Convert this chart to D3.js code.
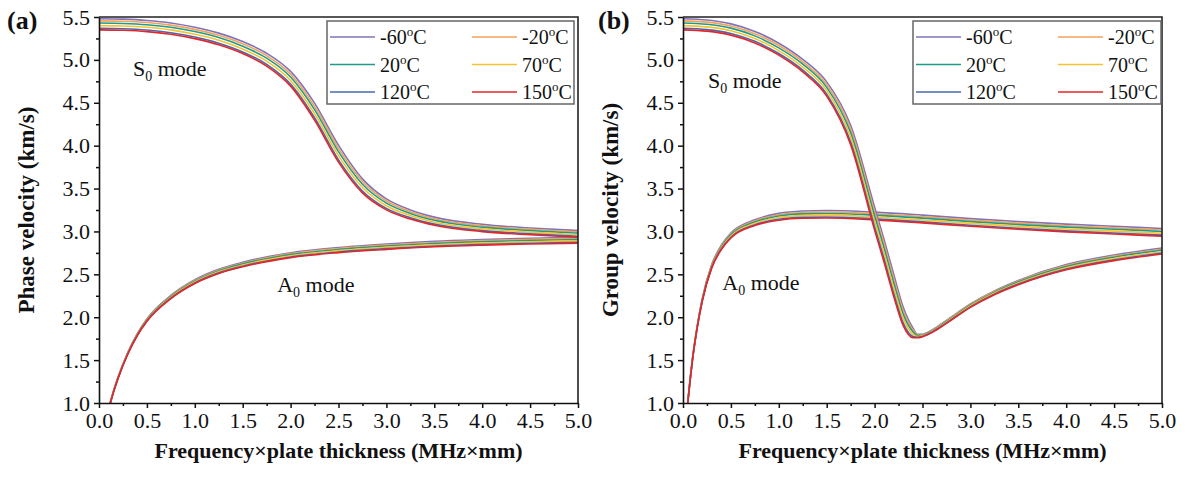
<!DOCTYPE html>
<html>
<head>
<meta charset="utf-8">
<script src="https://cdn.jsdelivr.net/npm/d3@7"></script>
<style>
  body { margin: 0; background: #fff; }
  svg { display: block; }
  text { font-family: "Liberation Serif", "Times New Roman", serif; fill: #111; }
</style>
</head>
<body>
<svg id="chart" width="1188" height="481"></svg>
<script>
// temperatures in the legend (order: top curve -> bottom curve)
var temps = ["-60", "-20", "20", "70", "120", "150"];
var tempColors = ["#8073b8", "#f5a15a", "#1f9c88", "#f4c430", "#4a68ad", "#e3262b"];

var xTicks = [0, 0.5, 1, 1.5, 2, 2.5, 3, 3.5, 4, 4.5, 5];
var yTicks = [1, 1.5, 2, 2.5, 3, 3.5, 4, 4.5, 5, 5.5];

// (a) phase velocity, S0 mode
var fdS0Phase = [0, 0.25, 0.5, 0.75, 1, 1.25, 1.5, 1.75, 2, 2.25, 2.5, 2.75, 3, 3.25, 3.5, 4, 4.5, 5];
var s0Phase = [
  [5.480, 5.475, 5.460, 5.431, 5.381, 5.312, 5.214, 5.078, 4.866, 4.496, 4.006, 3.613, 3.379, 3.251, 3.167, 3.082, 3.041, 3.010],
  [5.455, 5.450, 5.435, 5.405, 5.356, 5.286, 5.187, 5.049, 4.833, 4.458, 3.968, 3.582, 3.355, 3.231, 3.148, 3.066, 3.025, 2.995],
  [5.430, 5.425, 5.410, 5.380, 5.330, 5.260, 5.160, 5.020, 4.800, 4.420, 3.930, 3.550, 3.330, 3.210, 3.130, 3.050, 3.010, 2.980],
  [5.400, 5.395, 5.380, 5.350, 5.299, 5.229, 5.128, 4.985, 4.760, 4.374, 3.884, 3.512, 3.300, 3.185, 3.108, 3.031, 2.992, 2.962],
  [5.368, 5.363, 5.348, 5.317, 5.267, 5.195, 5.093, 4.948, 4.718, 4.325, 3.835, 3.472, 3.269, 3.159, 3.085, 3.010, 2.972, 2.943],
  [5.350, 5.345, 5.330, 5.299, 5.248, 5.176, 5.074, 4.928, 4.694, 4.298, 3.808, 3.449, 3.251, 3.144, 3.072, 2.998, 2.961, 2.933]
];

// (a) phase velocity, A0 mode
var fdA0Phase = [0.1, 0.15, 0.2, 0.3, 0.4, 0.5, 0.75, 1, 1.25, 1.5, 2, 2.5, 3, 3.5, 4, 4.5, 5];
var a0Phase = [
  [0.935, 1.135, 1.306, 1.588, 1.809, 1.981, 2.254, 2.437, 2.559, 2.640, 2.752, 2.813, 2.854, 2.885, 2.905, 2.921, 2.931],
  [0.932, 1.133, 1.303, 1.584, 1.805, 1.976, 2.247, 2.428, 2.549, 2.630, 2.741, 2.802, 2.842, 2.872, 2.893, 2.908, 2.918],
  [0.930, 1.130, 1.300, 1.580, 1.800, 1.970, 2.240, 2.420, 2.540, 2.620, 2.730, 2.790, 2.830, 2.860, 2.880, 2.895, 2.905],
  [0.927, 1.127, 1.296, 1.575, 1.794, 1.963, 2.231, 2.410, 2.529, 2.608, 2.717, 2.776, 2.816, 2.845, 2.865, 2.880, 2.890],
  [0.924, 1.123, 1.292, 1.571, 1.788, 1.956, 2.222, 2.399, 2.517, 2.595, 2.703, 2.761, 2.800, 2.829, 2.849, 2.863, 2.873],
  [0.923, 1.121, 1.290, 1.568, 1.785, 1.952, 2.217, 2.393, 2.510, 2.588, 2.695, 2.753, 2.791, 2.821, 2.840, 2.854, 2.864]
];

// (b) group velocity, S0 mode
var fdS0Group = [0, 0.25, 0.5, 0.75, 1, 1.25, 1.5, 1.75, 2, 2.1, 2.2, 2.3, 2.4, 2.45, 2.5, 2.6, 2.75, 3, 3.25, 3.5, 4, 4.5, 5];
var s0Group = [
  [5.480, 5.465, 5.420, 5.332, 5.194, 5.006, 4.744, 4.237, 3.283, 2.901, 2.499, 2.112, 1.874, 1.800, 1.802, 1.852, 1.963, 2.155, 2.307, 2.429, 2.613, 2.725, 2.807],
  [5.455, 5.440, 5.395, 5.306, 5.167, 4.978, 4.712, 4.193, 3.231, 2.850, 2.449, 2.071, 1.852, 1.793, 1.796, 1.846, 1.957, 2.148, 2.299, 2.420, 2.602, 2.712, 2.793],
  [5.430, 5.415, 5.370, 5.280, 5.140, 4.950, 4.680, 4.150, 3.180, 2.800, 2.400, 2.030, 1.830, 1.785, 1.790, 1.840, 1.950, 2.140, 2.290, 2.410, 2.590, 2.700, 2.780],
  [5.400, 5.385, 5.340, 5.249, 5.108, 4.916, 4.642, 4.098, 3.119, 2.740, 2.341, 1.981, 1.804, 1.776, 1.783, 1.833, 1.942, 2.131, 2.280, 2.398, 2.576, 2.685, 2.764],
  [5.368, 5.353, 5.308, 5.216, 5.074, 4.880, 4.601, 4.043, 3.053, 2.675, 2.277, 1.928, 1.776, 1.766, 1.776, 1.826, 1.933, 2.121, 2.269, 2.386, 2.561, 2.669, 2.747],
  [5.350, 5.335, 5.289, 5.198, 5.055, 4.860, 4.578, 4.012, 3.016, 2.638, 2.242, 1.899, 1.761, 1.760, 1.772, 1.822, 1.928, 2.115, 2.262, 2.379, 2.553, 2.660, 2.737]
];

// (b) group velocity, A0 mode
var fdA0Group = [0.04, 0.06, 0.08, 0.1, 0.15, 0.2, 0.3, 0.4, 0.5, 0.75, 1, 1.25, 1.5, 2, 2.5, 3, 3.5, 4, 4.5, 5];
var a0Group = [
  [0.904, 1.125, 1.335, 1.526, 1.908, 2.211, 2.615, 2.839, 2.982, 3.135, 3.211, 3.238, 3.244, 3.225, 3.190, 3.150, 3.115, 3.085, 3.060, 3.035],
  [0.902, 1.122, 1.332, 1.523, 1.904, 2.206, 2.608, 2.830, 2.971, 3.123, 3.195, 3.221, 3.227, 3.207, 3.172, 3.132, 3.097, 3.067, 3.042, 3.017],
  [0.900, 1.120, 1.330, 1.520, 1.900, 2.200, 2.600, 2.820, 2.960, 3.110, 3.180, 3.205, 3.210, 3.190, 3.155, 3.115, 3.080, 3.050, 3.025, 3.000],
  [0.897, 1.117, 1.327, 1.516, 1.895, 2.193, 2.591, 2.808, 2.947, 3.095, 3.162, 3.185, 3.190, 3.169, 3.134, 3.094, 3.059, 3.029, 3.004, 2.979],
  [0.895, 1.114, 1.324, 1.512, 1.890, 2.186, 2.581, 2.796, 2.932, 3.079, 3.142, 3.164, 3.168, 3.147, 3.112, 3.072, 3.037, 3.007, 2.982, 2.957],
  [0.893, 1.113, 1.322, 1.510, 1.887, 2.182, 2.575, 2.789, 2.924, 3.069, 3.131, 3.153, 3.156, 3.135, 3.100, 3.060, 3.025, 2.995, 2.970, 2.945]
];

var svg = d3.select("#chart");
var plotW = 479, top_ = 17, bottom_ = 403;

var panels = [
  { id: "a", tag: "(a)", tagX: 7, yTitle: "Phase velocity (km/s)", left: 99,
    s0: [fdS0Phase, s0Phase], a0: [fdA0Phase, a0Phase],
    legX: 228, legW: 247, s0Lab: [0.355, 4.81], a0Lab: [1.86, 2.29] },
  { id: "b", tag: "(b)", tagX: 598, yTitle: "Group velocity (km/s)", left: 683,
    s0: [fdS0Group, s0Group], a0: [fdA0Group, a0Group],
    legX: 230, legW: 248, s0Lab: [0.26, 4.67], a0Lab: [0.41, 2.32] }
];

function modeLabel(g, x, y, letter) {
  var t = g.append("text").attr("x", x).attr("y", y).attr("font-size", 22);
  t.append("tspan").text(letter);
  t.append("tspan").attr("font-size", 14).attr("dy", 5).text("0");
  t.append("tspan").attr("dy", -5).text(" mode");
}

panels.forEach(function(p) {
  var x = d3.scaleLinear().domain([0, 5]).range([p.left, p.left + plotW]);
  var y = d3.scaleLinear().domain([1, 5.5]).range([bottom_, top_]);
  var g = svg.append("g");

  g.append("clipPath").attr("id", "clip-" + p.id)
    .append("rect").attr("x", p.left).attr("y", top_)
    .attr("width", plotW).attr("height", bottom_ - top_);

  var line = d3.line().curve(d3.curveMonotoneX);
  var curves = g.append("g").attr("clip-path", "url(#clip-" + p.id + ")");
  [p.a0, p.s0].forEach(function(mode) {
    var fd = mode[0];
    mode[1].forEach(function(vals, i) {
      curves.append("path")
        .attr("d", line(fd.map(function(f, j) { return [x(f), y(vals[j])]; })))
        .attr("fill", "none")
        .attr("stroke", tempColors[i])
        .attr("stroke-width", 1.6);
    });
  });

  // minor ticks
  var minorX = d3.range(0.25, 5, 0.5);
  var minorY = d3.range(1.25, 5.5, 0.5);
  g.append("g").attr("transform", "translate(0," + bottom_ + ")")
    .call(d3.axisBottom(x).tickValues(minorX).tickSize(3).tickFormat(""))
    .call(function(s) { s.select(".domain").remove(); });
  g.append("g").attr("transform", "translate(" + p.left + ",0)")
    .call(d3.axisLeft(y).tickValues(minorY).tickSize(3).tickFormat(""))
    .call(function(s) { s.select(".domain").remove(); });

  // frame top/right
  g.append("path")
    .attr("d", "M" + p.left + "," + top_ + "H" + (p.left + plotW) + "V" + bottom_)
    .attr("fill", "none").attr("stroke", "#222").attr("stroke-width", 1.6);

  var xa = g.append("g").attr("transform", "translate(0," + bottom_ + ")")
    .call(d3.axisBottom(x).tickValues(xTicks).tickSize(5).tickPadding(4).tickSizeOuter(0)
      .tickFormat(d3.format(".1f")));
  var ya = g.append("g").attr("transform", "translate(" + p.left + ",0)")
    .call(d3.axisLeft(y).tickValues(yTicks).tickSize(5).tickPadding(4).tickSizeOuter(0)
      .tickFormat(d3.format(".1f")));
  [xa, ya].forEach(function(a) {
    a.attr("font-family", null).attr("font-size", null);
    a.selectAll("text").attr("font-size", 22).attr("fill", "#111");
    a.select(".domain").attr("stroke", "#111").attr("stroke-width", 1.6);
  });
  g.selectAll(".tick line").attr("stroke", "#111").attr("stroke-width", 1.5);

  // titles
  g.append("text").attr("x", p.left + plotW / 2).attr("y", 458)
    .attr("text-anchor", "middle").attr("font-size", 22).attr("font-weight", "bold")
    .text("Frequency×plate thickness (MHz×mm)");
  g.append("text")
    .attr("transform", "translate(" + (p.left - 65) + "," + ((top_ + bottom_) / 2) + ") rotate(-90)")
    .attr("text-anchor", "middle").attr("font-size", 23).attr("font-weight", "bold")
    .text(p.yTitle);
  g.append("text").attr("x", p.tagX).attr("y", 29)
    .attr("font-size", 26).attr("font-weight", "bold").text(p.tag);

  modeLabel(g, x(p.s0Lab[0]), y(p.s0Lab[1]), "S");
  modeLabel(g, x(p.a0Lab[0]), y(p.a0Lab[1]), "A");

  // legend
  var lg = g.append("g").attr("transform", "translate(" + (p.left + p.legX) + ",21)");
  lg.append("rect").attr("width", p.legW).attr("height", 83)
    .attr("fill", "#fff").attr("stroke", "#666").attr("stroke-width", 1.5);
  temps.forEach(function(t, i) {
    var col = i % 2, row = Math.floor(i / 2);
    var ex = 3 + col * 142, ey = 16 + row * 27.5;
    lg.append("line").attr("x1", ex).attr("x2", ex + 45).attr("y1", ey).attr("y2", ey)
      .attr("stroke", tempColors[i]).attr("stroke-width", 1.6);
    var tx = lg.append("text").attr("x", ex + 50).attr("y", ey + 7).attr("font-size", 20);
    tx.append("tspan").text(t);
    tx.append("tspan").attr("font-size", 13).attr("dy", -8).text("o");
    tx.append("tspan").attr("dy", 8).text("C");
  });
});
</script>
</body>
</html>
